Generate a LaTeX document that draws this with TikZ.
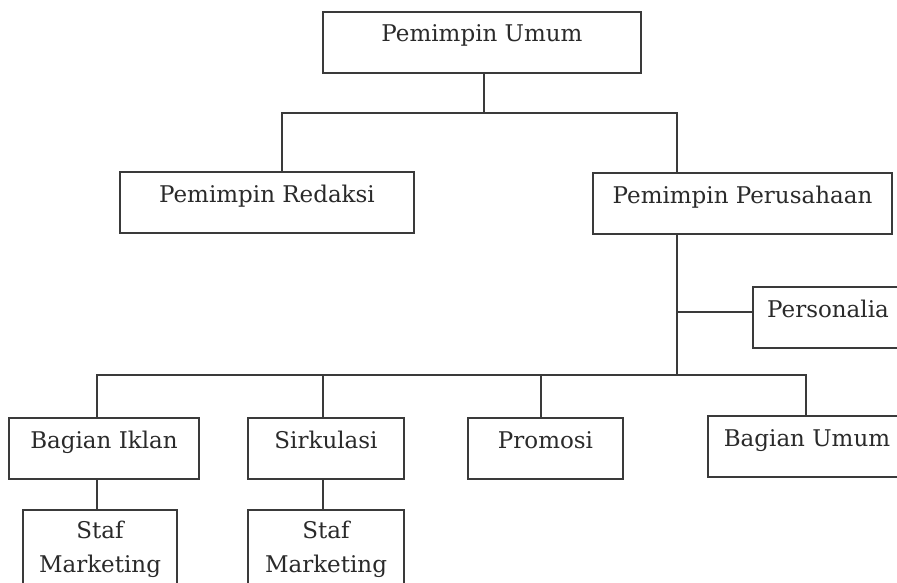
\documentclass[tikz,border=0pt]{standalone}
\usepackage{fontspec}
\setmainfont{DejaVu Serif}
\definecolor{ink}{HTML}{3A3A3A}
\definecolor{type}{HTML}{2A2A2A}
\tikzset{
  unit/.style={draw=ink, line width=1.5pt, text=type, rectangle, anchor=north west,
    outer sep=0pt, inner xsep=0pt, inner ysep=5pt, text height=25pt, text depth=26pt,
    font=\fontsize{23}{27}\selectfont},
  staff/.style={unit, text height=, text depth=, minimum height=78pt, align=center,
    font=\fontsize{23}{34}\selectfont},
  link/.style={draw=ink, line width=1.4pt}
}
\begin{document}
\begin{tikzpicture}[x=1pt,y=-1pt]
\useasboundingbox (0,0) rectangle (897,583);
\clip (0,0) rectangle (897,583);
\node[unit, minimum width=318pt] (pu) at (323,12) {Pemimpin Umum};
\node[unit, minimum width=294pt] (rd) at (120,172) {Pemimpin Redaksi};
\node[unit, minimum width=299pt] (pp) at (593,173) {Pemimpin Perusahaan};
\node[unit, minimum width=150pt] (ps) at (753,287) {Personalia};
\node[unit, minimum width=190pt] (bi) at (9,418) {Bagian Iklan};
\node[unit, minimum width=156pt] (sk) at (248,418) {Sirkulasi};
\node[unit, minimum width=155pt] (pm) at (468,418) {Promosi};
\node[unit, minimum width=198pt] (bu) at (708,416) {Bagian Umum};
\node[staff, minimum width=154pt] (sm1) at (23,510) {Staf\\Marketing};
\node[staff, minimum width=156pt] (sm2) at (248,510) {Staf\\Marketing};
\coordinate (top) at (484,113);
\coordinate (jr) at (282,113);
\coordinate (jp) at (677,113);
\coordinate (js) at (677,312);
\coordinate (jb) at (677,375);
\coordinate (b1) at (97,375);
\coordinate (b2) at (323,375);
\coordinate (b3) at (541,375);
\coordinate (b4) at (806,375);
\draw[link] (pu.south -| top) -- (top);
\draw[link] (rd.north -| jr) -- (jr) -- (jp) -- (pp.north -| jp);
\draw[link] (pp.south -| jb) -- (jb);
\draw[link] (js) -- (js -| ps.west);
\draw[link] (bi.north -| b1) -- (b1) -- (b4) -- (bu.north -| b4);
\draw[link] (b2) -- (sk.north -| b2);
\draw[link] (b3) -- (pm.north -| b3);
\draw[link] (bi.south -| b1) -- (sm1.north -| b1);
\draw[link] (sk.south -| b2) -- (sm2.north -| b2);
\end{tikzpicture}
\end{document}
